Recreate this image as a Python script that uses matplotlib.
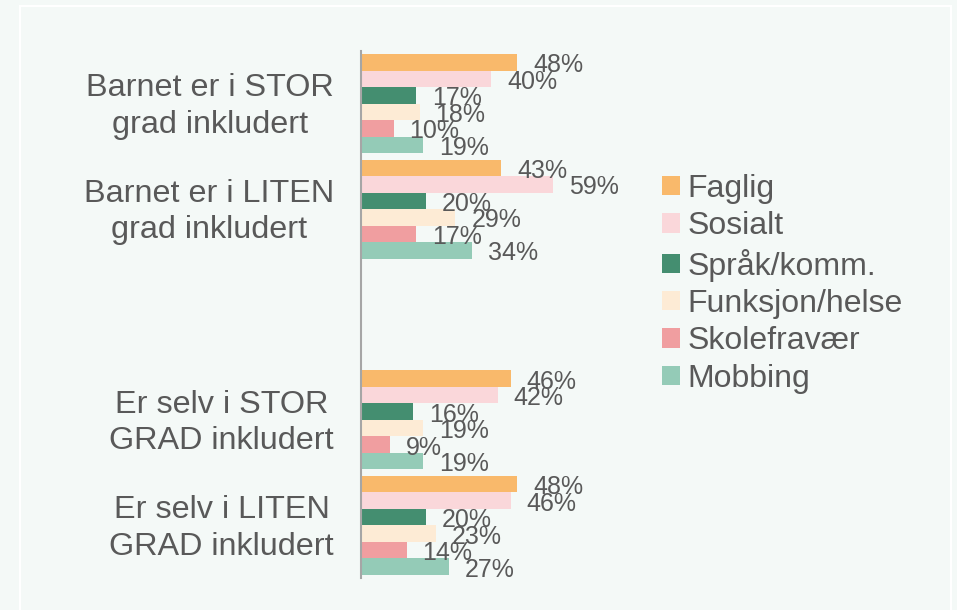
import matplotlib
matplotlib.use("Agg")
import matplotlib.pyplot as plt
from matplotlib.patches import Patch, Rectangle

# categories top to bottom (blank slot between the two blocks)
categories = ["Barnet er i STOR\ngrad inkludert",
              "Barnet er i LITEN\ngrad inkludert",
              "",
              "Er selv i STOR\nGRAD inkludert",
              "Er selv i LITEN\nGRAD inkludert"]

series = ["Faglig", "Sosialt", "Språk/komm.", "Funksjon/helse", "Skolefravær", "Mobbing"]
colors = ["#F9B96B", "#FAD7DA", "#448E70", "#FDEBD5", "#F09EA0", "#94CBB7"]

# values in %, one list per series, same order as categories (None = blank slot)
faglig = [48, 43, None, 46, 48]
sosialt = [40, 59, None, 42, 46]
sprak = [17, 20, None, 16, 20]
funksjon = [18, 29, None, 19, 23]
skolefravar = [10, 17, None, 9, 14]
mobbing = [19, 34, None, 19, 27]
values = [faglig, sosialt, sprak, funksjon, skolefravar, mobbing]

bg = "#F4F9F7"
txt = "#595959"
plt.rcParams['font.family'] = ['Liberation Sans', 'DejaVu Sans']

fig = plt.figure(figsize=(9.57, 6.10), dpi=100)
fig.patch.set_facecolor(bg)
# faint white frame
fig.patches.append(Rectangle((19.5 / 957, -0.05), (951 - 19.5) / 957, 1.05 - 6 / 610,
                             transform=fig.transFigure, fill=False,
                             edgecolor="white", linewidth=1.5))

ax = fig.add_axes([361 / 957, 1 - 578 / 610, 260.3 / 957, 527 / 610])
ax.set_facecolor(bg)

bar_h = 0.1566
n = len(series)
for i, (name, vals, col) in enumerate(zip(series, values, colors)):
    for j, v in enumerate(vals):
        if v is None:
            continue
        y = j - (n - 1) / 2 * bar_h + i * bar_h
        ax.barh(y, v, height=bar_h, color=col, edgecolor="none")
        ax.annotate(f"{v}%", xy=(v, y), xytext=(16, -3), textcoords="offset pixels",
                    ha="left", va="center", fontsize=18, color=txt)

ax.set_xlim(0, 80)
ax.set_ylim(len(categories) - 0.5, -0.5)
ax.set_yticks(range(len(categories)))
ax.set_yticklabels([])
# category labels, centred lines, right edge left of the axis
for j, cat in enumerate(categories):
    ax.annotate(cat, xy=(0, j), xytext=(-27, -3), textcoords="offset pixels",
                ha="right", va="center", multialignment="center",
                fontsize=23.3, color=txt, linespacing=1.28, annotation_clip=False)
ax.tick_params(axis="y", length=0)
ax.set_xticks([])
for s in ["top", "right", "bottom"]:
    ax.spines[s].set_visible(False)
ax.spines["left"].set_color("#A6A6A6")
ax.spines["left"].set_linewidth(1.5)

handles = [Patch(facecolor=c, edgecolor="none", label=s) for s, c in zip(series, colors)]
leg = fig.legend(handles=handles, loc="upper left",
                 bbox_to_anchor=(662 / 957, 1 - 174 / 610),
                 frameon=False, fontsize=23, handlelength=0.55, handleheight=0.55,
                 handletextpad=0.25, labelspacing=0.23, borderaxespad=0, borderpad=0)
for t in leg.get_texts():
    t.set_color(txt)

fig.savefig("out.png", dpi=100, facecolor=bg)
